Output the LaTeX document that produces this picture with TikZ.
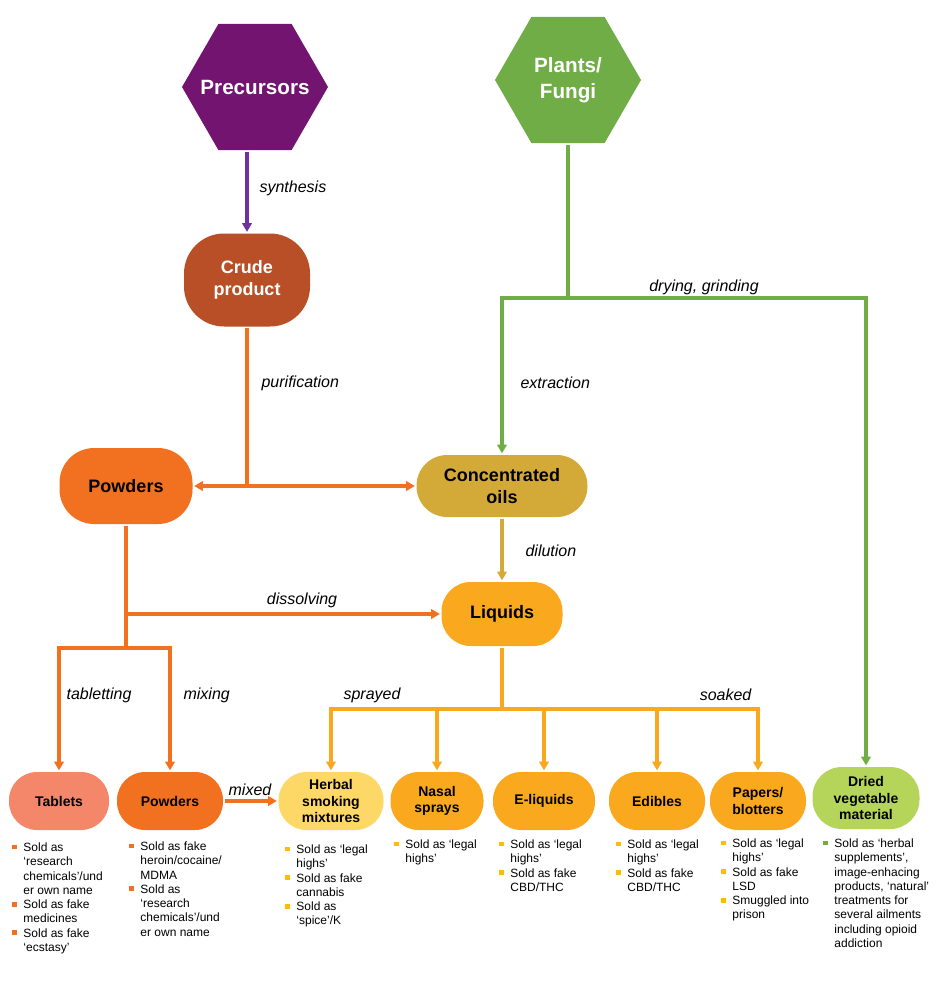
\documentclass[tikz,border=0pt]{standalone}
\usepackage{fontspec}
\setmainfont{Liberation Sans}
\usetikzlibrary{arrows.meta,shapes.geometric}
\definecolor{purpHex}{RGB}{114,20,112}
\definecolor{purpLine}{RGB}{112,48,160}
\definecolor{plantGreen}{RGB}{112,173,71}
\definecolor{crudeRed}{RGB}{185,79,38}
\definecolor{powOrange}{RGB}{242,113,33}
\definecolor{oilGold}{RGB}{211,169,56}
\definecolor{liqAmber}{RGB}{250,168,30}
\definecolor{tabSalmon}{RGB}{244,134,106}
\definecolor{herbYellow}{RGB}{253,216,102}
\definecolor{driedGreen}{RGB}{180,212,90}
\definecolor{bulYellow}{RGB}{255,188,0}
\newcommand{\blt}[1]{\textcolor{#1}{\rule[1.6pt]{3.6pt}{3.6pt}}}
\tikzset{every picture/.style={line width=2.4pt},
  hexa/.style={regular polygon, regular polygon sides=6, minimum size=109.5pt, inner sep=0pt},
  hexatext/.style={inner sep=0pt, text=white, align=center, font=\fontsize{15.5}{19.5}\selectfont\bfseries},
  bigbox/.style={inner sep=0pt, align=center, font=\fontsize{13.5}{16}\selectfont\bfseries},
  smallbox/.style={rounded corners=21pt, minimum height=43.5pt, inner sep=0pt, align=center, font=\fontsize{10.5}{12.2}\selectfont\bfseries},
  flow/.style={-{Triangle[length=6.5pt,width=7pt]}},
  lbl/.style={inner sep=0pt, font=\fontsize{12}{14}\selectfont\itshape},
  notes/.style={anchor=north west, inner sep=0pt, align=left, font=\fontsize{9}{10.7}\selectfont}}

\begin{document}
\begin{tikzpicture}[x=0.75pt,y=0.75pt,yscale=-1,xscale=1]
\useasboundingbox (0,0) rectangle (944,1001);

%Shape: Hexagon
\draw (255,87) node (prec) [hexa, fill=purpHex, label={[hexatext]center:Precursors}] {};
%Shape: Hexagon
\draw (568,80) node (plants) [hexa, fill=plantGreen, label={[hexatext]center:Plants/\\Fungi}] {};

%Shape: Rounded Rect
\draw (247,280) node (crude) [bigbox, fill=crudeRed, text=white, minimum width=94.5pt, minimum height=69.75pt, rounded corners=30pt] {Crude\\product};
%Shape: Rounded Rect
\draw (126,486) node (pow) [bigbox, fill=powOrange, minimum width=99.75pt, minimum height=57pt, rounded corners=26pt] {Powders};
%Shape: Rounded Rect
\draw (502,486) node (oils) [bigbox, fill=oilGold, minimum width=128.25pt, minimum height=46.5pt, rounded corners=23pt] {Concentrated\\oils};
%Shape: Rounded Rect
\draw (502,614) node (liq) [bigbox, fill=liqAmber, minimum width=90.75pt, minimum height=48pt, rounded corners=22pt] {Liquids};

%Shape: Rounded Rect (bottom row)
\draw (59,801) node (tab) [smallbox, fill=tabSalmon, minimum width=75pt] {Tablets};
\draw (170,801) node (pow2) [smallbox, fill=powOrange, minimum width=79.5pt] {Powders};
\draw (331,801) node (herb) [smallbox, fill=herbYellow, minimum width=78.75pt] {Herbal\\smoking\\mixtures};
\draw (437,801) node (nasal) [smallbox, fill=liqAmber, minimum width=69.75pt] {Nasal\\sprays};
\draw (544,801) node (eliq) [smallbox, fill=liqAmber, minimum width=76.5pt] {E-liquids};
\draw (657,801) node (edib) [smallbox, fill=liqAmber, minimum width=72pt] {Edibles};
\draw (758,801) node (pap) [smallbox, fill=liqAmber, minimum width=72pt] {Papers/\\blotters};
\draw (866,798) node (dried) [smallbox, fill=driedGreen, minimum width=80.25pt, minimum height=46.5pt, rounded corners=22pt] {Dried\\vegetable\\material};

%Straight Lines
\draw [flow, purpLine] (crude.north |- prec.south) -- (crude.north);
\coordinate (jc) at (crude.south |- pow.east);
\draw [powOrange] (crude.south) -- (jc);
\draw [flow, powOrange] (jc) -- (pow.east);
\draw [flow, powOrange] (jc) -- (oils.west);
%Straight Lines
\coordinate (jg) at (plants.south |- 0,298);
\draw [plantGreen] (plants.south) -- (jg);
\draw [flow, plantGreen] (jg) -| (oils.north);
\draw [flow, plantGreen] (jg) -| (dried.north);
\draw [flow, oilGold] (oils.south) -- (liq.north);
%Straight Lines
\coordinate (jp) at (pow.south |- 0,648);
\draw [powOrange] (pow.south) -- (jp);
\draw [flow, powOrange] (pow.south |- liq.west) -- (liq.west);
\draw [flow, powOrange] (jp) -| (tab.north);
\draw [flow, powOrange] (jp) -| (pow2.north);
\draw [flow, powOrange] (pow2.east) -- (herb.west);
%Straight Lines
\coordinate (jl) at (liq.south |- 0,709);
\draw [liqAmber] (liq.south) -- (jl);
\foreach \n in {herb,nasal,eliq,edib,pap} \draw [flow, liqAmber] (jl) -| (\n.north);

% Text Node
\draw (258,188) node (lsyn) [lbl, anchor=west] {synthesis};
% Text Node
\draw (260,383) node (lpur) [lbl, anchor=west] {purification};
% Text Node
\draw (704,287) node (ldry) [lbl] {drying, grinding};
% Text Node
\draw (519,383) node (lext) [lbl, anchor=west] {extraction};
% Text Node
\draw (524,551) node (ldil) [lbl, anchor=west] {dilution};
% Text Node
\draw (302,600) node (ldis) [lbl] {dissolving};
% Text Node
\draw (65,695) node (ltab) [lbl, anchor=west] {tabletting};
% Text Node
\draw (182,695) node (lmix) [lbl, anchor=west] {mixing};
% Text Node
\draw (342,695) node (lspr) [lbl, anchor=west] {sprayed};
% Text Node
\draw (753,695) node (lsoak) [lbl, anchor=east] {soaked};
% Text Node
\draw (250,790) node (lmixed) [lbl] {mixed};

% Text Node
\draw (10.5,840) node (ntab) [notes] {\begin{tabular}{@{}l@{\hspace{4.9pt}}l@{}}
\blt{powOrange} & Sold as\\ & ‘research\\ & chemicals’/und\\ & er own name\\
\blt{powOrange} & Sold as fake\\ & medicines\\
\blt{powOrange} & Sold as fake\\ & ‘ecstasy’\end{tabular}};
% Text Node
\draw (127.5,839) node (npow) [notes] {\begin{tabular}{@{}l@{\hspace{4.9pt}}l@{}}
\blt{powOrange} & Sold as fake\\ & heroin/cocaine/\\ & MDMA\\
\blt{powOrange} & Sold as\\ & ‘research\\ & chemicals’/und\\ & er own name\end{tabular}};
% Text Node
\draw (283.5,842) node (nherb) [notes] {\begin{tabular}{@{}l@{\hspace{4.9pt}}l@{}}
\blt{bulYellow} & Sold as ‘legal\\ & highs’\\
\blt{bulYellow} & Sold as fake\\ & cannabis\\
\blt{bulYellow} & Sold as\\ & ‘spice’/K\end{tabular}};
% Text Node
\draw (392.5,837) node (nnas) [notes] {\begin{tabular}{@{}l@{\hspace{4.9pt}}l@{}}
\blt{bulYellow} & Sold as ‘legal\\ & highs’\end{tabular}};
% Text Node
\draw (497.5,837) node (neliq) [notes] {\begin{tabular}{@{}l@{\hspace{4.9pt}}l@{}}
\blt{bulYellow} & Sold as ‘legal\\ & highs’\\
\blt{bulYellow} & Sold as fake\\ & CBD/THC\end{tabular}};
% Text Node
\draw (614.5,837) node (nedib) [notes] {\begin{tabular}{@{}l@{\hspace{4.9pt}}l@{}}
\blt{bulYellow} & Sold as ‘legal\\ & highs’\\
\blt{bulYellow} & Sold as fake\\ & CBD/THC\end{tabular}};
% Text Node
\draw (719.5,836) node (npap) [notes] {\begin{tabular}{@{}l@{\hspace{4.9pt}}l@{}}
\blt{bulYellow} & Sold as ‘legal\\ & highs’\\
\blt{bulYellow} & Sold as fake\\ & LSD\\
\blt{bulYellow} & Smuggled into\\ & prison\end{tabular}};
% Text Node
\draw (821.5,836) node (ndried) [notes] {\begin{tabular}{@{}l@{\hspace{4.9pt}}l@{}}
\blt{plantGreen} & Sold as ‘herbal\\ & supplements’,\\ & image-enhacing\\ & products, ‘natural’\\ & treatments for\\ & several ailments\\ & including opioid\\ & addiction\end{tabular}};

\end{tikzpicture}
\end{document}
